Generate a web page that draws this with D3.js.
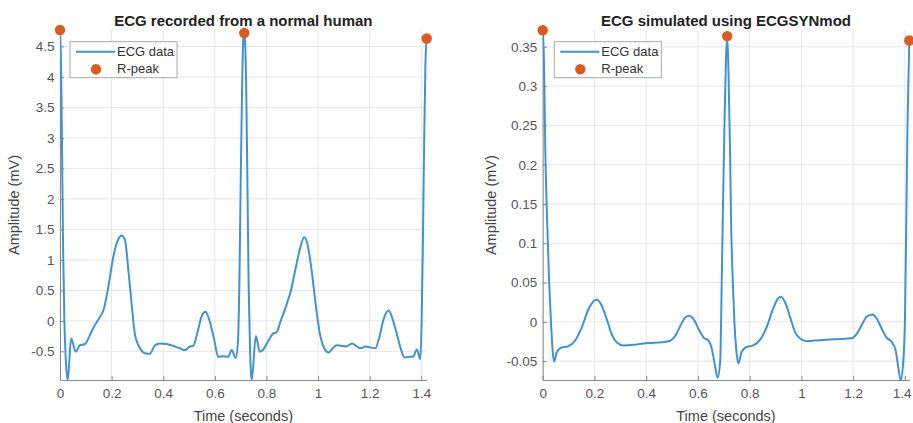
<!DOCTYPE html>
<html>
<head>
<meta charset="utf-8">
<script src="https://cdn.jsdelivr.net/npm/d3@7"></script>
<style>
  html, body { margin: 0; padding: 0; background: #fff; }
  svg { display: block; font-family: "Liberation Sans", Arial, Helvetica, sans-serif; }
</style>
</head>
<body>
<svg id="chart" width="913" height="423"></svg>
<script>
// ---------------- DATA ----------------
// Left: ECG recorded from a normal human (time s, amplitude mV)
const humanTime = [0, 0.004, 0.008, 0.012, 0.017, 0.022, 0.027, 0.030, 0.043, 0.061, 0.077, 0.097, 0.116, 0.135, 0.155, 0.168, 0.187, 0.206, 0.226, 0.239, 0.252, 0.265, 0.280, 0.290, 0.310, 0.329, 0.348, 0.368, 0.387, 0.413, 0.439, 0.465, 0.484, 0.503, 0.516, 0.535, 0.548, 0.564, 0.581, 0.598, 0.613, 0.632, 0.652, 0.665, 0.681, 0.690, 0.695, 0.700, 0.706, 0.710, 0.714, 0.718, 0.722, 0.727, 0.731, 0.736, 0.740, 0.743, 0.759, 0.774, 0.791, 0.806, 0.823, 0.840, 0.856, 0.875, 0.895, 0.914, 0.933, 0.946, 0.959, 0.975, 0.992, 1.007, 1.024, 1.040, 1.057, 1.072, 1.089, 1.108, 1.132, 1.147, 1.164, 1.186, 1.206, 1.222, 1.238, 1.255, 1.274, 1.290, 1.305, 1.320, 1.335, 1.355, 1.368, 1.383, 1.396, 1.401, 1.406, 1.411, 1.416, 1.421];
const humanAmp = [4.77, 4.2, 2.8, 1.2, 0.0, -0.6, -0.9, -0.97, -0.29, -0.505, -0.40, -0.38, -0.23, -0.07, 0.065, 0.17, 0.55, 1.04, 1.34, 1.40, 1.32, 0.83, 0.17, -0.21, -0.45, -0.53, -0.54, -0.40, -0.37, -0.38, -0.41, -0.45, -0.48, -0.42, -0.41, -0.15, 0.065, 0.15, -0.02, -0.32, -0.59, -0.58, -0.59, -0.48, -0.61, -0.3, 0.6, 2.2, 3.9, 4.6, 4.72, 4.5, 3.7, 2.0, 0.6, -0.4, -0.85, -0.97, -0.25, -0.505, -0.45, -0.34, -0.22, -0.18, 0.01, 0.23, 0.50, 0.88, 1.23, 1.37, 1.26, 0.83, 0.23, -0.21, -0.45, -0.52, -0.45, -0.40, -0.41, -0.42, -0.37, -0.41, -0.45, -0.42, -0.44, -0.45, -0.26, 0.04, 0.17, 0.01, -0.21, -0.45, -0.60, -0.59, -0.59, -0.47, -0.63, -0.1, 1.2, 2.9, 4.2, 4.63];
const humanPeakTime = [0, 0.714, 1.421];
const humanPeakAmp = [4.77, 4.72, 4.63];

// Right: ECG simulated using ECGSYNmod
const simTime = [0, 0.005, 0.010, 0.018, 0.025, 0.032, 0.038, 0.044, 0.054, 0.071, 0.099, 0.125, 0.151, 0.177, 0.196, 0.209, 0.226, 0.248, 0.267, 0.286, 0.312, 0.357, 0.409, 0.461, 0.493, 0.512, 0.532, 0.551, 0.566, 0.583, 0.603, 0.622, 0.641, 0.654, 0.667, 0.676, 0.686, 0.692, 0.697, 0.702, 0.708, 0.713, 0.718, 0.724, 0.728, 0.735, 0.741, 0.748, 0.756, 0.769, 0.788, 0.814, 0.840, 0.866, 0.891, 0.910, 0.921, 0.936, 0.956, 0.975, 0.994, 1.020, 1.071, 1.136, 1.194, 1.213, 1.233, 1.252, 1.274, 1.291, 1.310, 1.329, 1.349, 1.364, 1.374, 1.384, 1.393, 1.400, 1.405, 1.410, 1.417];
const simAmp = [0.371, 0.33, 0.22, 0.12, 0.05, 0.0, -0.035, -0.0507, -0.039, -0.033, -0.031, -0.024, -0.007, 0.016, 0.026, 0.028, 0.022, 0.003, -0.016, -0.026, -0.030, -0.029, -0.027, -0.026, -0.024, -0.018, -0.005, 0.0055, 0.0077, 0.0034, -0.0094, -0.020, -0.024, -0.035, -0.058, -0.071, -0.05, 0.05, 0.15, 0.24, 0.33, 0.3636, 0.32, 0.22, 0.13, 0.05, 0.0, -0.035, -0.053, -0.038, -0.032, -0.030, -0.023, -0.0064, 0.017, 0.030, 0.032, 0.0255, 0.0064, -0.0127, -0.021, -0.0246, -0.0233, -0.022, -0.021, -0.0157, -0.0042, 0.0064, 0.0094, 0.0043, -0.0085, -0.020, -0.0255, -0.036, -0.057, -0.074, -0.053, 0.0, 0.12, 0.25, 0.358];
const simPeakTime = [0, 0.713, 1.417];
const simPeakAmp = [0.371, 0.3636, 0.358];

const xTicks = [0, 0.2, 0.4, 0.6, 0.8, 1.0, 1.2, 1.4];
const xTickLabels = ["0", "0.2", "0.4", "0.6", "0.8", "1", "1.2", "1.4"];
const humanYTicks = [-0.5, 0, 0.5, 1, 1.5, 2, 2.5, 3, 3.5, 4, 4.5];
const humanYTickLabels = ["-0.5", "0", "0.5", "1", "1.5", "2", "2.5", "3", "3.5", "4", "4.5"];
const simYTicks = [-0.05, 0, 0.05, 0.1, 0.15, 0.2, 0.25, 0.3, 0.35];
const simYTickLabels = ["-0.05", "0", "0.05", "0.1", "0.15", "0.2", "0.25", "0.3", "0.35"];

const titles = ["ECG recorded from a normal human", "ECG simulated using ECGSYNmod"];
const xLabel = "Time (seconds)";
const yLabel = "Amplitude (mV)";
const legendLabels = ["ECG data", "R-peak"];

// ---------------- DRAW ----------------
const svg = d3.select("#chart");
const LINE = "#3f93d2";
const DOT = "#dd5a1e";
const AXIS = "#8a8a8a";
const GRID = "#e6e6e6";
const TXT = "#555";

function panel(cfg) {
  const { left, right, top, bottom, time, amp, pTime, pAmp, yTicks, yLabels, title, id } = cfg;
  const g = svg.append("g");
  const x = d3.scaleLinear().domain([0, d3.max(time)]).range([left, right]);
  const y = d3.scaleLinear().domain(d3.extent(amp)).range([bottom, top]);

  // grid
  g.append("g").selectAll("line").data(xTicks).join("line")
    .attr("x1", d => x(d)).attr("x2", d => x(d)).attr("y1", top).attr("y2", bottom)
    .attr("stroke", GRID).attr("stroke-width", 1);
  g.append("g").selectAll("line").data(yTicks).join("line")
    .attr("x1", left).attr("x2", right).attr("y1", d => y(d)).attr("y2", d => y(d))
    .attr("stroke", GRID).attr("stroke-width", 1);

  // axes
  const xa = g.append("g").attr("transform", `translate(0,${bottom})`)
    .call(d3.axisBottom(x).tickValues(xTicks).tickFormat((d, i) => xTickLabels[i]).tickSizeInner(-4).tickSizeOuter(0).tickPadding(8));
  const ya = g.append("g").attr("transform", `translate(${left},0)`)
    .call(d3.axisLeft(y).tickValues(yTicks).tickFormat((d, i) => yLabels[i]).tickSizeInner(-4).tickSizeOuter(0).tickPadding(5.5));
  [xa, ya].forEach(a => {
    a.select(".domain").attr("stroke", AXIS);
    a.selectAll(".tick line").attr("stroke", AXIS);
    a.selectAll(".tick text").attr("fill", TXT).style("font-size", "13.5px").style("font-family", "'Liberation Sans', Arial, sans-serif");
  });
  // keep a label that would run past the page edge inside it
  xa.selectAll(".tick text").each(function () {
    const bb = this.getBBox();
    const tx = +this.parentNode.getAttribute("transform").match(/translate\(([-\d.]+)/)[1];
    const over = tx + bb.x + bb.width - 912;
    if (over > 0) d3.select(this).attr("dx", -over);
  });

  // clip + line
  svg.append("defs").append("clipPath").attr("id", id)
    .append("rect").attr("x", left).attr("y", top - 1).attr("width", right - left + 1).attr("height", bottom - top + 2);
  const pts = time.map((t, i) => [t, amp[i]]);
  g.append("path").datum(pts)
    .attr("clip-path", `url(#${id})`)
    .attr("fill", "none").attr("stroke", LINE).attr("stroke-width", 2)
    .attr("d", d3.line().x(d => x(d[0])).y(d => y(d[1])).curve(d3.curveMonotoneX));

  // R-peaks
  g.append("g").selectAll("circle").data(pTime.map((t, i) => [t, pAmp[i]])).join("circle")
    .attr("cx", d => x(d[0])).attr("cy", d => y(d[1])).attr("r", 5.2).attr("fill", DOT);

  // title
  g.append("text").attr("x", (left + right) / 2).attr("y", 25.5).attr("text-anchor", "middle")
    .attr("fill", "#222").style("font-size", "15px").style("font-weight", "bold").text(title);
  // x label
  g.append("text").attr("x", (left + right) / 2).attr("y", 421).attr("text-anchor", "middle")
    .attr("fill", "#444").style("font-size", "14.5px").text(xLabel);
  // y label
  g.append("text").attr("transform", `translate(${left - cfg.yLabelOff},${(top + bottom) / 2}) rotate(-90)`)
    .attr("text-anchor", "middle").attr("fill", "#444").style("font-size", "14.5px").text(yLabel);

  // legend
  const lx = left + cfg.legOff, ly = 41.7;
  const lg = g.append("g");
  lg.append("rect").attr("x", lx).attr("y", ly).attr("width", 107).attr("height", 36)
    .attr("fill", "#fff").attr("stroke", "#a8a8a8").attr("stroke-width", 1);
  lg.append("line").attr("x1", lx + 6).attr("x2", lx + 45).attr("y1", ly + 10).attr("y2", ly + 10)
    .attr("stroke", LINE).attr("stroke-width", 2);
  lg.append("circle").attr("cx", lx + 26).attr("cy", ly + 27.5).attr("r", 5.2).attr("fill", DOT);
  lg.selectAll("text.leg").data(legendLabels).join("text").attr("class", "leg")
    .attr("x", lx + 47).attr("y", (d, i) => ly + 14.5 + i * 17)
    .attr("fill", "#333").style("font-size", "13px").text(d => d);
}

panel({ left: 60, right: 426.7, top: 30, bottom: 380, time: humanTime, amp: humanAmp,
  pTime: humanPeakTime, pAmp: humanPeakAmp, yTicks: humanYTicks, yLabels: humanYTickLabels,
  title: titles[0], id: "clipL", yLabelOff: 41, legOff: 10 });
panel({ left: 542.7, right: 909.3, top: 30.3, bottom: 380, time: simTime, amp: simAmp,
  pTime: simPeakTime, pAmp: simPeakAmp, yTicks: simYTicks, yLabels: simYTickLabels,
  title: titles[1], id: "clipR", yLabelOff: 47, legOff: 11.6 });
</script>
</body>
</html>
